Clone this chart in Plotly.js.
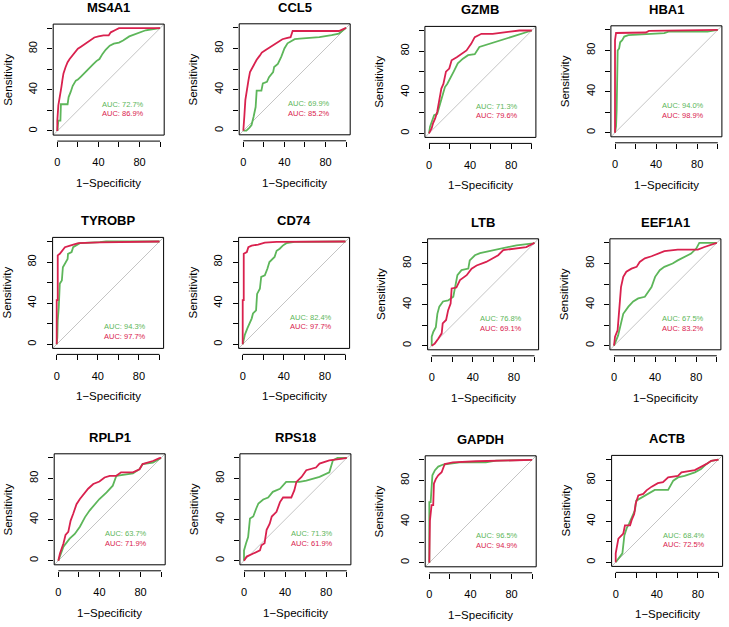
<!DOCTYPE html>
<html><head><meta charset="utf-8">
<script src="https://cdn.plot.ly/plotly-3.0.1.min.js"></script>
<style>html,body{margin:0;padding:0;background:#fff}#chart{width:729px;height:627px}</style>
</head><body><div id="chart"></div>
<script>
const genes = ['MS4A1','CCL5','GZMB','HBA1','TYROBP','CD74','LTB','EEF1A1','RPLP1','RPS18','GAPDH','ACTB'];
const aucGreen = ['72.7%','69.9%','71.3%','94.0%','94.3%','82.4%','76.8%','67.5%','63.7%','71.3%','96.5%','68.4%'];
const aucRed   = ['86.9%','85.2%','79.6%','98.9%','97.7%','97.7%','69.1%','83.2%','71.9%','61.9%','94.9%','72.5%'];
const tickVals = [0,20,40,60,80,100];
const tickText = ['0','','40','','80',''];

// ROC curves: x = 1-Specificity (%), y = Sensitivity (%)
const MS4A1_green_x = [0,1,3,3.5,10,11,13,15,18,20,23,26,28,32,35,38,41,44,47,51,55,60,64,70,75,80,86,92,100];
const MS4A1_green_y = [0,10,10,26,26,33,38,44,49,50,53,56,59,62,65,68,70,75,79,83,85,86,88,92,94,96,98,99,100];
const MS4A1_red_x = [0,0,1,2,3,4,5,6,8,10,12,15,18,20,23,26,30,33,36,40,45,50,52,56,60,100];
const MS4A1_red_y = [0,10,25,30,35,43,50,56,62,67,70,74,78,80,82,84,87,89,91,92,93,93,96,98,100,100];

const CCL5_green_x = [0,3,6,8,10,11,12,13,17.6,19,23,25,29,30,33.6,37,40,43,47,50,55,61,74,86,93,100];
const CCL5_green_y = [0,0,3,5.5,13.6,20,23,39,39,46,47.6,52,57,62,65,72,80,85,87,89,89.5,90,91,93,94.5,100];
const CCL5_red_x = [0,0.5,1,2,3,5,6.5,8,10,13,16,18,21,24,26,30,32,35,38,42,46,48,60,80,93,100];
const CCL5_red_y = [0,5,14,30,38,49,57,60,64,69,73,76,78,80,81.5,84,85,87,89,90,91,97,97,97,97,100];

const GZMB_green_x = [0,1,2.6,5,8,10.6,12,15.5,17.7,20,24,28,33,38,44.5,49,59,69,80,91,97.7,100];
const GZMB_green_y = [0,6.5,11,17.7,19,29,34,45,48,53,60,68,72.6,76,77,84,87,90,93.5,96.8,99,100];
const GZMB_red_x = [0,2.6,4,6,8,10,12,14,16.5,19.7,22,27,31.6,36.5,41,44.5,51,62,75,88,100];
const GZMB_red_y = [0,5,10,14.5,21,32,43.5,48,60,63,71,74,77,80.6,87,93.5,96.8,96.8,98.4,100,100];

const HBA1_green_x = [0,1,1.6,2.6,4,5,7,9,13,29,48,52,90,100];
const HBA1_green_y = [0,6,22,80,82,88,90,93.5,95,96,96.8,98.4,98.4,100];
const HBA1_red_x = [0,0,1,13,30,33,100];
const HBA1_red_y = [0,90,97,97.4,97.5,99,100];

const TYROBP_green_x = [0,0.6,1,2,3,5,6,8,10.6,11,14.5,16,19,22.5,42,48,100];
const TYROBP_green_y = [0,7,23.5,36,59,62,75,78,83,88,89.7,94.5,96,98.4,99.4,100,100];
const TYROBP_red_x = [0,0,1,1,3,5,8,13,21,42,100];
const TYROBP_red_y = [0,43,43,86.5,88,91,94.5,96,98.5,99.2,100];

const CD74_green_x = [0,1.3,2,4.5,6.4,8.7,10,13,14,16.7,18,21.5,24,26,31,33,36,39,42.5,50.5,100];
const CD74_green_y = [0,5,9,15.5,20,25,30,33,49,54,65.5,67,73.5,80,85,91,93,96,98.4,99.7,100];
const CD74_red_x = [0,0,1,1,4,5.5,8.7,15,21.5,33,100];
const CD74_red_y = [0,43,43,88,89.7,94.5,96,97,99,99.7,100];

const LTB_green_x = [0,0,1.6,4,5.5,7.4,11,16,21,22.6,25,29,35.6,37,42,47,60,70,82.5,98.7,100];
const LTB_green_y = [0,8.7,13.6,18,31,38,43,44,47.6,57,68.6,73.5,75,83,88,90,93,95.5,97.7,99.5,100];
const LTB_red_x = [0,3,6.5,9.7,10.7,14,16,18.4,19.4,24,27.5,34,38.8,43.7,53,60,64.7,69.6,79,92,100];
const LTB_red_y = [0,2,7,12,21.7,25,34.6,41,55.7,56.6,63.8,68.6,75,78,81.5,85,88,93,94.5,96,100];

const EEF1A1_green_x = [0,2.6,4,6.8,9,14,18.7,23.5,30,33,36.5,40,44.5,49,57,62,68.7,75,80,83,100];
const EEF1A1_green_y = [0,5.5,10,21.7,31,38,43,46,47.6,52,57,67,73.5,76.7,80,83,86,89.6,94.5,100,100];
const EEF1A1_red_x = [0,1,3.5,5,6.8,9,12,17,22,25,30,36.5,43,49,62,81.6,88,100];
const EEF1A1_red_y = [0,8.7,15,34.6,57,67,72,75,76.7,81.5,85,87,89.6,92,93.5,93.5,96,100];

const RPLP1_green_x = [0,5,11,16,21,26,30.6,35.5,40,47,53,56.5,72.6,79,82,92,100];
const RPLP1_green_y = [0,13.5,21.5,26,33,42.4,49,55,60,66.5,73,82.6,85,89,94,95.5,100];
const RPLP1_red_x = [0,1.6,5,7,9.7,12,14.5,17.7,21,26,29,34,40,45,50,56.5,61,72.6,79,82,92,98.4,100];
const RPLP1_red_y = [0,7,16.7,25,28,39,45.6,55,60,66.5,70,74.6,77,81,82.6,82.6,86,86,89,94,97,99.7,100];

const RPS18_green_x = [0,0,2,4,5.8,9,12,14,18.7,23.5,28,35,41,54,60.6,73.5,83,86.5,91,100];
const RPS18_green_y = [0,10,17,23,41,43,51,55.7,59.5,61.5,67,70,76.7,76.7,78,81.5,86,97.7,100,100];
const RPS18_red_x = [0,2.6,9,15.5,17,20,22,25,27,31.6,35,38,46,49,51,56,60.6,70,73.5,83,96,100];
const RPS18_red_y = [0,4,7,10,15,17,30,36,43,47.6,57,61.5,61.5,68.6,76.7,81.5,88,90.6,94.5,97.7,99.4,100];

const GAPDH_green_x = [0,0,0,1.3,2.2,3,5.5,8.7,13.5,21.5,29.6,55,65,100];
const GAPDH_green_y = [0,17,59,59,78,85,90,93.5,95.5,96.8,97.7,97.7,99.4,100];
const GAPDH_red_x = [0,0,0.6,2.2,3.8,4.5,6.4,8.7,12,15,23,45.6,78,100];
const GAPDH_red_y = [0,6,41,56,56,77,81.6,85,88,96,97.7,98.7,99.4,100];

const ACTB_green_x = [0,4,6.5,8.4,10.6,13,16,18.7,20,25,31.6,38,51,56,60.6,67,77,83,88,93,100];
const ACTB_green_y = [0,5.5,8.7,26,33,37.6,44,50.5,60,63,66.5,70.4,70.4,79.4,82.6,84,87.5,90.7,95.5,98.7,100];
const ACTB_red_x = [0,0,2.6,7.4,9,14,15.5,18,19.4,22,26.8,30,35,41,46,51,60.6,64,77,81.6,88,93,100];
const ACTB_red_y = [0,8.7,23,28,36,36,41,47,57,65,66.5,70,73.6,77,78,82.6,84,87.5,89.7,92,95.5,98.7,100];

const greenX = [MS4A1_green_x,CCL5_green_x,GZMB_green_x,HBA1_green_x,TYROBP_green_x,CD74_green_x,LTB_green_x,EEF1A1_green_x,RPLP1_green_x,RPS18_green_x,GAPDH_green_x,ACTB_green_x];
const greenY = [MS4A1_green_y,CCL5_green_y,GZMB_green_y,HBA1_green_y,TYROBP_green_y,CD74_green_y,LTB_green_y,EEF1A1_green_y,RPLP1_green_y,RPS18_green_y,GAPDH_green_y,ACTB_green_y];
const redX = [MS4A1_red_x,CCL5_red_x,GZMB_red_x,HBA1_red_x,TYROBP_red_x,CD74_red_x,LTB_red_x,EEF1A1_red_x,RPLP1_red_x,RPS18_red_x,GAPDH_red_x,ACTB_red_x];
const redY = [MS4A1_red_y,CCL5_red_y,GZMB_red_y,HBA1_red_y,TYROBP_red_y,CD74_red_y,LTB_red_y,EEF1A1_red_y,RPLP1_red_y,RPS18_red_y,GAPDH_red_y,ACTB_red_y];

// ---- layout (pixel placement of each panel box: left, bottom) ----
const W = 729, H = 627, S = 111;
const boxLeft   = [53.2,239.2,424.9,610.9, 52.6,238.6,427.6,609.9, 54.2,239.9,425.2,611.6];
const boxBottom = [135.1,134.8,137.4,136.8, 348.4,348.4,349.8,349.8, 564.8,564.8,566.8,566.4];
const aucPosX = [64,64,66,66,66,66,67,67,66,66,66,66];
const aucPosY = [26,26,26,26,17,26,26,26,26,26,26,26];
const GREEN = '#5DB65A', RED = '#D9214E', FONT = 'Liberation Sans, Arial, sans-serif';

const data = [], shapes = [], annotations = [];
const layout = {width: W, height: H, margin:{l:0,r:0,t:0,b:0}, showlegend:false,
  paper_bgcolor:'#fff', plot_bgcolor:'#fff', font:{family:FONT, color:'#000'}};

genes.forEach((g, i) => {
  const s = i === 0 ? '' : String(i+1);
  const xa = 'x'+s, ya = 'y'+s;
  const L = boxLeft[i], B = boxBottom[i];
  const xd = [L/W, (L+S)/W], yd = [1-B/H, 1-(B-S)/H];
  const axPos = 1-(B+6)/H;
  data.push({x:[-4,104], y:[-4,104], xaxis:xa, yaxis:ya, mode:'lines', line:{color:'#C4C4C4', width:1}, hoverinfo:'skip'});
  data.push({x:greenX[i], y:greenY[i], xaxis:xa, yaxis:ya, mode:'lines', line:{color:GREEN, width:1.8}});
  data.push({x:redX[i], y:redY[i], xaxis:xa, yaxis:ya, mode:'lines', line:{color:RED, width:1.8}});
  layout['xaxis'+s] = {domain:xd, range:[-4,104], anchor:'free', position:axPos,
    tickvals:tickVals, ticktext:tickText, ticks:'outside', ticklen:5, tickcolor:'#000', tickwidth:1,
    showline:false, showgrid:false, zeroline:false, ticklabelstandoff:6,
    tickfont:{family:FONT, size:11, color:'#000'}, fixedrange:true};
  layout['yaxis'+s] = {domain:yd, range:[-4,104], anchor:xa,
    tickvals:tickVals, ticktext:tickText, ticks:'outside', ticklen:5, tickcolor:'#000', tickwidth:1,
    tickangle:-90, showline:false, showgrid:false, zeroline:false, ticklabelstandoff:6,
    tickfont:{family:FONT, size:11, color:'#000'}, fixedrange:true};
  shapes.push({type:'rect', xref:xa+' domain', yref:ya+' domain', x0:0, x1:1, y0:0, y1:1, line:{color:'#000', width:1}});
  shapes.push({type:'line', xref:xa, yref:'paper', x0:0, x1:100, y0:axPos, y1:axPos, line:{color:'#000', width:1}});
  annotations.push({text:'<b>'+g+'</b>', xref:'paper', yref:'paper', x:(L+S/2)/W, y:1-(B-S-16.5)/H,
    xanchor:'center', yanchor:'middle', showarrow:false, font:{family:FONT, size:13, color:'#000'}});
  annotations.push({text:'1\u2212Specificity', xref:'paper', yref:'paper', x:(L+4.1+51.4)/W, y:1-(B+48)/H,
    xanchor:'center', yanchor:'middle', showarrow:false, font:{family:FONT, size:11.5, color:'#000'}});
  annotations.push({text:'Sensitivity', xref:'paper', yref:'paper', x:(L-46)/W, y:1-(B-4.1-51.4)/H,
    xanchor:'center', yanchor:'middle', textangle:-90, showarrow:false, font:{family:FONT, size:11.5, color:'#000'}});
  annotations.push({text:'AUC: '+aucGreen[i], xref:xa, yref:ya, x:aucPosX[i], y:aucPosY[i],
    xanchor:'center', yanchor:'middle', showarrow:false, font:{family:FONT, size:7.5, color:GREEN}});
  annotations.push({text:'AUC: '+aucRed[i], xref:xa, yref:ya, x:aucPosX[i], y:aucPosY[i]-9,
    xanchor:'center', yanchor:'middle', showarrow:false, font:{family:FONT, size:7.5, color:RED}});
});
layout.shapes = shapes;
layout.annotations = annotations;
Plotly.newPlot('chart', data, layout, {displayModeBar:false, staticPlot:true});
</script></body></html>
